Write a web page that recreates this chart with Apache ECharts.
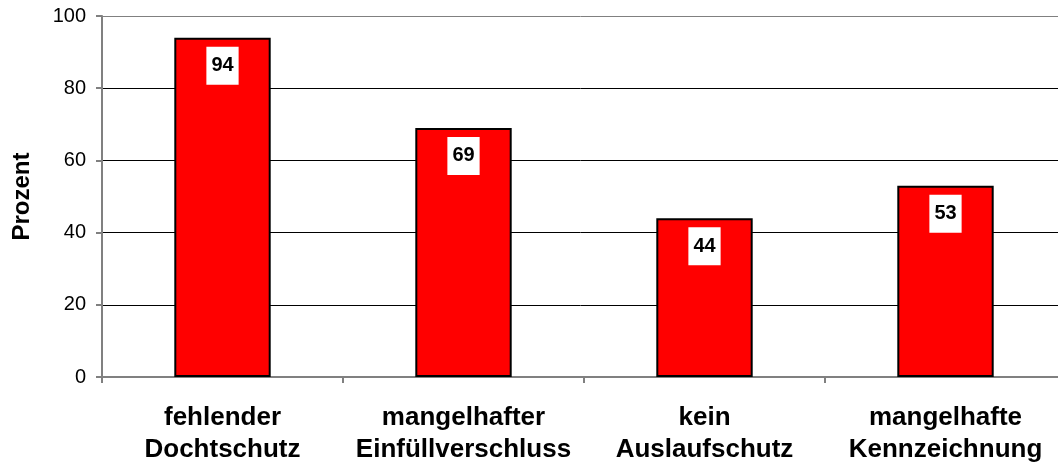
<!DOCTYPE html>
<html>
<head>
<meta charset="utf-8">
<script src="https://cdn.jsdelivr.net/npm/echarts@6/dist/echarts.min.js"></script>
<style>
  html, body { margin: 0; padding: 0; background: #fff; }
  #chart { width: 1058px; height: 468px; }
</style>
</head>
<body>
<div id="chart"></div>
<script>
const categories = ['fehlender\nDochtschutz', 'mangelhafter\nEinfüllverschluss', 'kein\nAuslaufschutz', 'mangelhafte\nKennzeichnung'];
const values = [94, 69, 44, 53];

const chart = echarts.init(document.getElementById('chart'), null, { renderer: 'canvas' });
const font = 'Arial, "Liberation Sans", sans-serif';

chart.setOption({
  backgroundColor: '#fff',
  animation: false,
  grid: { left: 102, top: 16, width: 964, bottom: 91, containLabel: false, outerBoundsMode: 'none' },
  xAxis: {
    type: 'category',
    data: categories,
    axisLine: { lineStyle: { color: '#808080', width: 2 } },
    axisTick: { show: true, length: 6, lineStyle: { color: '#808080', width: 2 } },
    axisLabel: {
      color: '#000', fontFamily: font, fontWeight: 'bold', fontSize: 26,
      lineHeight: 32, margin: 25, hideOverlap: false, interval: 0
    }
  },
  yAxis: {
    type: 'value',
    min: 0, max: 100, interval: 20,
    name: 'Prozent',
    nameLocation: 'middle',
    nameGap: 68,
    nameTextStyle: { color: '#000', fontFamily: font, fontWeight: 'bold', fontSize: 24 },
    axisLine: { show: true, lineStyle: { color: '#808080', width: 2 } },
    axisTick: { show: true, length: 6, lineStyle: { color: '#808080', width: 2 } },
    axisLabel: { color: '#000', fontFamily: font, fontSize: 20, margin: 16 },
    splitLine: { lineStyle: { color: ['#000', '#000', '#000', '#000', '#000', '#808080'], width: 1 } }
  },
  series: [{
    type: 'bar',
    data: values,
    barWidth: '40%',
    itemStyle: { color: '#ff0000', borderColor: '#000', borderWidth: 2 },
    label: {
      show: true,
      position: 'insideTop',
      distance: 9,
      color: '#000',
      fontFamily: font,
      fontWeight: 'bold',
      fontSize: 20,
      backgroundColor: '#fff',
      padding: [9, 5]
    }
  }]
});
</script>
</body>
</html>
